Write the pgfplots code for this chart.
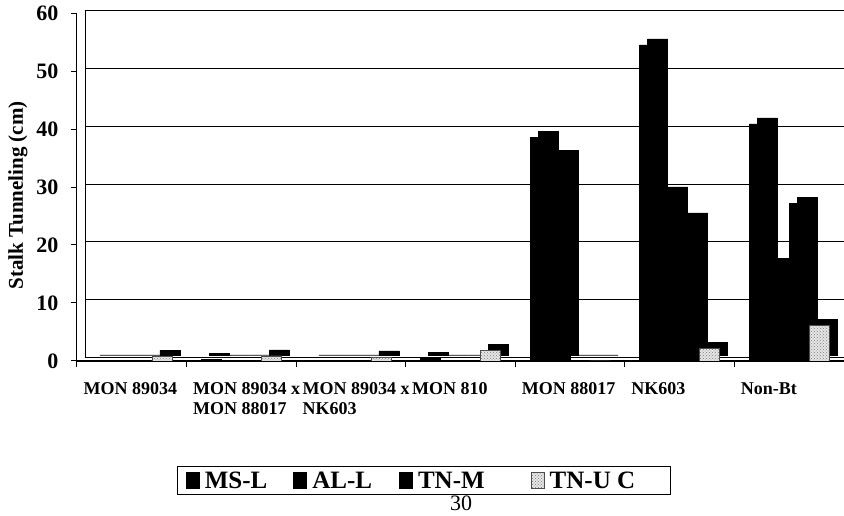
\documentclass[border=0pt]{standalone}
\usepackage{pgfplots}
\pgfplotsset{compat=1.18}
\usepackage{fontspec}
\setmainfont{Liberation Serif}
\usetikzlibrary{patterns}

% 1pt in the picture = 1px in the reference
\newcommand\ytickfont{\fontsize{22}{24}\selectfont\bfseries}
\newcommand\xtickfont{\fontsize{18}{20}\selectfont\bfseries}

\begin{document}
\begin{tikzpicture}
\useasboundingbox (-77pt,-155pt) rectangle (767pt,361pt);
\begin{axis}[
    at={(0pt,0pt)}, anchor=south west,
    width=767pt, height=348pt, scale only axis,
    ybar, bar width=20pt,
    xmin=-0.5, xmax=6.5, ymin=0, ymax=60,
    ytick={0,10,...,60},
    xtick={-0.5,0.5,1.5,2.5,3.5,4.5,5.5},
    xticklabels={MON 89034, {MON 89034 x\\MON 88017}, {MON 89034 x\\NK603},
                 MON 810, MON 88017, NK603, Non-Bt},
    axis x line*=bottom, axis y line*=left,
    axis line style={black, line width=1pt, -},
    x axis line style={line width=2.5pt},
    tick align=outside, major tick length=6pt,
    tick style={black, line width=1pt},
    ymajorgrids, major grid style={black, line width=1pt, xshift=9pt, yshift=3pt},
    /pgf/number format/assume math mode=true,
    yticklabel style={font=\ytickfont, xshift=-9pt},
    xticklabel style={font=\xtickfont, anchor=north west, align=left,
                      xshift=3pt, yshift=-12pt},
    ylabel={Stalk Tunneling (cm)},
    ylabel style={font=\fontsize{21}{24}\selectfont\bfseries,
                  at={(axis description cs:-0.077,0.476)}, anchor=center},
    legend image code/.code={\draw[#1] (0pt,0pt) rectangle (13pt,16pt);},
    legend style={at={(0.4524,-0.3434)}, anchor=center, legend columns=4,
                  draw=black, line width=1pt, inner xsep=8pt, inner ysep=5pt,
                  font=\fontsize{25}{28}\selectfont\bfseries,
                  nodes={inner sep=0pt, anchor=base west},
                  /tikz/every odd column/.style={column sep=5pt},
                  /tikz/column 2/.style={column sep=26pt},
                  /tikz/column 4/.style={column sep=27pt},
                  /tikz/column 6/.style={column sep=46pt}},
]
% back faces (depth of the 3-D columns)
\addplot[fill=black, draw=black, bar shift=-30pt, xshift=8pt, yshift=6pt, forget plot]
  coordinates {(0,0) (1,0.3) (2,0) (3,0.4) (4,38.6) (5,54.5) (6,40.9)};
\addplot[fill=black, draw=black, bar shift=-10pt, xshift=8pt, yshift=6pt, forget plot]
  coordinates {(0,0) (1,0) (2,0) (3,0) (4,35.3) (5,29.0) (6,16.7)};
\addplot[fill=black, draw=black, bar shift=10pt, xshift=8pt, yshift=6pt, forget plot]
  coordinates {(0,0) (1,0) (2,0) (3,0) (4,0) (5,24.5) (6,27.2)};
\addplot[fill=black, draw=black, bar shift=30pt, xshift=8pt, yshift=6pt, forget plot]
  coordinates {(0,0.8) (1,0.9) (2,0.7) (3,1.8) (4,0) (5,2.2) (6,6.2)};
% front faces
\addplot[fill=black, draw=black, bar shift=-30pt]
  coordinates {(0,0) (1,0.3) (2,0) (3,0.4) (4,38.6) (5,54.5) (6,40.9)};
\addplot[fill=black, draw=black, bar shift=-10pt]
  coordinates {(0,0) (1,0) (2,0) (3,0) (4,35.3) (5,29.0) (6,16.7)};
\addplot[fill=black, draw=black, bar shift=10pt]
  coordinates {(0,0) (1,0) (2,0) (3,0) (4,0) (5,24.5) (6,27.2)};
\addplot[fill=gray!20, draw=black!70, bar shift=30pt,
         postaction={pattern=crosshatch dots, pattern color=gray}]
  coordinates {(0,0.8) (1,0.9) (2,0.7) (3,1.8) (4,0) (5,2.2) (6,6.2)};
\legend{MS-L, AL-L, TN-M, TN-U C\rule{27pt}{0pt}}
\end{axis}
% back wall edge
\draw[line width=1pt] (9pt,3pt) -- (9pt,351pt);
\node[font=\fontsize{22}{24}\selectfont, anchor=base, inner sep=0pt] at (384pt,-150pt) {30};
\end{tikzpicture}
\end{document}
